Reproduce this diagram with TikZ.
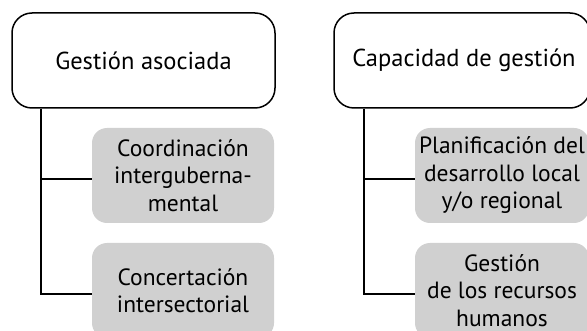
\documentclass[tikz,border=0pt]{standalone}
\usepackage{fontspec}
\setmainfont{PT Sans}
\definecolor{boxgrey}{HTML}{D0D0D0}
\begin{document}
\begin{tikzpicture}[x=1pt,y=-1pt,
  parentbox/.style={draw=black,line width=1.5pt,rounded corners=20pt,fill=white,
    minimum height=95pt,inner sep=0pt,align=center,
    font=\fontsize{24.5}{28}\selectfont},
  childbox/.style={fill=boxgrey,rounded corners=15pt,minimum height=95pt,
    inner sep=0pt,align=center,font=\fontsize{23.5}{27.5}\selectfont},
  link/.style={draw=black,line width=1.5pt}]
\useasboundingbox (0,0) rectangle (587,331);
\clip (0,0) rectangle (587,331);
% left group
\node[parentbox,minimum width=263pt] (lp) at (143.5,60.5) {Gestión asociada};
\node[childbox,minimum width=182pt] (lc1) at (183,175.5) {Coordinación\\intergubern\-a-\\mental};
\node[childbox,minimum width=182pt] (lc2) at (183,290.5) {Concertación\\intersectorial};
\coordinate (lv) at (41,0);
\draw[link] (lp.south -| lv) |- ([yshift=-3.5pt]lc2.west);
\draw[link] ([yshift=-3.5pt]lc1.west) -- ([yshift=-3.5pt]lc1.west -| lv);
% right group
\node[parentbox,minimum width=256pt] (rp) at (462,60.5) {\hspace*{4pt}Capacidad de gestión};
\node[childbox,minimum width=174pt] (rc1) at (502,175.5) {Planificación del\\desarrollo local\\y/o regional};
\node[childbox,minimum width=174pt] (rc2) at (502,290.5) {Gestión\\de los recursos\\humanos};
\coordinate (rv) at (364,0);
\draw[link] (rp.south -| rv) |- ([yshift=-3.5pt]rc2.west);
\draw[link] ([yshift=-3.5pt]rc1.west) -- ([yshift=-3.5pt]rc1.west -| rv);
\end{tikzpicture}
\end{document}
